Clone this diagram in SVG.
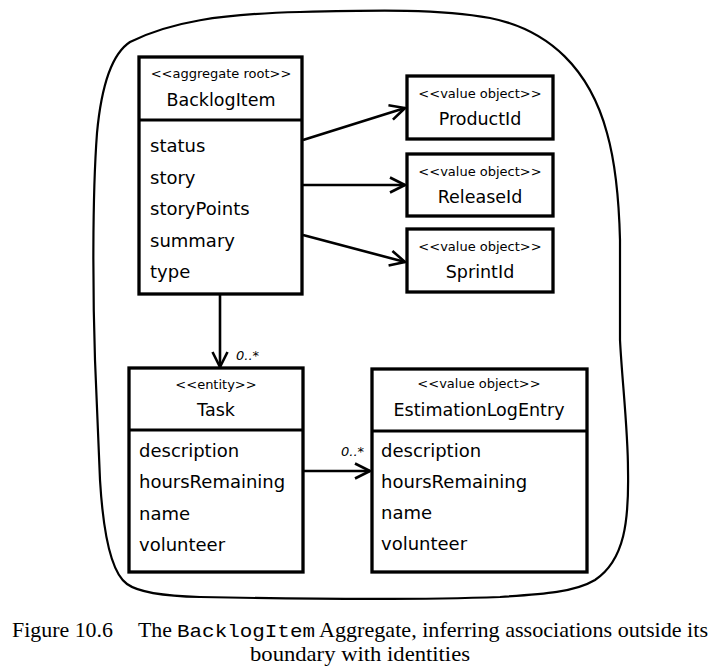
<svg xmlns="http://www.w3.org/2000/svg" width="721" height="672" viewBox="0 0 721 672">
<style>
  .box { fill: #ffffff; stroke: #000000; stroke-width: 3.3; }
  .div { stroke: #000000; stroke-width: 3; }
  .st { font-family: "DejaVu Sans", "Liberation Sans", sans-serif; font-size: 13px; fill: #000; text-anchor: middle; }
  .nm { font-family: "DejaVu Sans", "Liberation Sans", sans-serif; font-size: 17.5px; fill: #000; text-anchor: middle; }
  .at { font-family: "DejaVu Sans", "Liberation Sans", sans-serif; font-size: 18px; fill: #000; }
  .ml { font-family: "DejaVu Sans", "Liberation Sans", sans-serif; font-size: 13px; font-style: italic; fill: #000; }
  .conn { stroke: #000; stroke-width: 2.6; fill: none; marker-end: url(#open); }
  .cap { font-family: "Liberation Serif", serif; font-size: 21px; fill: #000; }
  .mono { font-family: "Liberation Mono", monospace; font-size: 19px; fill: #000; }
</style>
<defs>
  <marker id="open" viewBox="0 0 18 18" refX="16" refY="9" markerWidth="18" markerHeight="18" markerUnits="userSpaceOnUse" orient="auto">
    <path d="M1,1.5 L16,9 L1,16.5" fill="none" stroke="#000" stroke-width="2.6" stroke-linejoin="miter"/>
  </marker>
</defs>

<g id="boundary">
  <path d="M 130,42 C 170,22 220,14 300,12 C 380,10 440,9 490,18 C 550,30 590,70 607,133 C 616,165 619,200 620,240 L 620,340 C 622,380 628,430 628,470 C 629,520 625,560 595,580 C 575,592 545,594 500,597 C 420,600 300,599 200,597 C 160,596 138,592 127,584 C 110,572 103,530 100,480 L 95,360 C 93,300 92,200 97,133 C 101,90 110,55 130,42 Z" fill="none" stroke="#000" stroke-width="2.2"/>
</g>

<g id="connectors">
  <line class="conn" x1="303" y1="140" x2="405" y2="108"/>
  <line class="conn" x1="303" y1="185" x2="405" y2="185"/>
  <line class="conn" x1="303" y1="235" x2="405" y2="262"/>
  <line class="conn" x1="220" y1="295" x2="220" y2="367"/>
  <text class="ml" x="236" y="360">0..*</text>
  <line class="conn" x1="304" y1="471" x2="370" y2="471"/>
  <text class="ml" x="341" y="456">0..*</text>
</g>

<g id="backlogitem">
  <rect class="box" x="139" y="57" width="163" height="237"/>
  <line class="div" x1="139" y1="120" x2="302" y2="120"/>
  <text class="st" x="221" y="78">&lt;&lt;aggregate root&gt;&gt;</text>
  <text class="nm" x="221" y="106">BacklogItem</text>
  <text class="at" x="150" y="152">status</text>
  <text class="at" x="150" y="184">story</text>
  <text class="at" x="150" y="215">storyPoints</text>
  <text class="at" x="150" y="247">summary</text>
  <text class="at" x="150" y="278">type</text>
</g>

<g id="productid">
  <rect class="box" x="407" y="76" width="146" height="63"/>
  <text class="st" x="480" y="98">&lt;&lt;value object&gt;&gt;</text>
  <text class="nm" x="480" y="125">ProductId</text>
</g>

<g id="releaseid">
  <rect class="box" x="407" y="154" width="146" height="62"/>
  <text class="st" x="480" y="176">&lt;&lt;value object&gt;&gt;</text>
  <text class="nm" x="480" y="203">ReleaseId</text>
</g>

<g id="sprintid">
  <rect class="box" x="407" y="229" width="146" height="63"/>
  <text class="st" x="480" y="251">&lt;&lt;value object&gt;&gt;</text>
  <text class="nm" x="480" y="278">SprintId</text>
</g>

<g id="task">
  <rect class="box" x="129" y="368" width="174" height="204"/>
  <line class="div" x1="129" y1="430" x2="303" y2="430"/>
  <text class="st" x="216" y="389">&lt;&lt;entity&gt;&gt;</text>
  <text class="nm" x="216" y="416">Task</text>
  <text class="at" x="139" y="457">description</text>
  <text class="at" x="139" y="488">hoursRemaining</text>
  <text class="at" x="139" y="520">name</text>
  <text class="at" x="139" y="551">volunteer</text>
</g>

<g id="estimationlogentry">
  <rect class="box" x="372" y="369" width="215" height="203"/>
  <line class="div" x1="372" y1="431" x2="587" y2="431"/>
  <text class="st" x="479" y="388">&lt;&lt;value object&gt;&gt;</text>
  <text class="nm" x="479" y="416">EstimationLogEntry</text>
  <text class="at" x="381" y="457">description</text>
  <text class="at" x="381" y="488">hoursRemaining</text>
  <text class="at" x="381" y="519">name</text>
  <text class="at" x="381" y="550">volunteer</text>
</g>

<g id="caption">
  <text class="cap" x="12" y="637" textLength="101" lengthAdjust="spacingAndGlyphs">Figure 10.6</text>
  <text class="cap" x="138" y="637" textLength="34" lengthAdjust="spacingAndGlyphs">The</text>
  <text class="mono" x="177" y="637" textLength="138" lengthAdjust="spacingAndGlyphs">BacklogItem</text>
  <text class="cap" x="319" y="637" textLength="389" lengthAdjust="spacingAndGlyphs">Aggregate, inferring associations outside its</text>
  <text class="cap" x="250" y="661" textLength="220" lengthAdjust="spacingAndGlyphs">boundary with identities</text>
</g>
</svg>
